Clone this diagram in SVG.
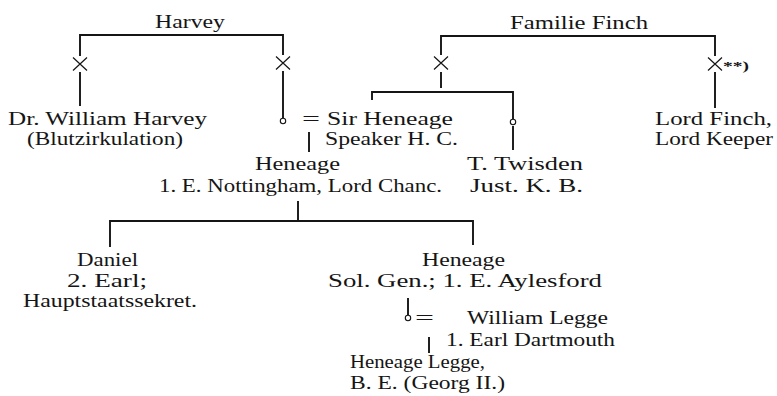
<svg xmlns="http://www.w3.org/2000/svg" width="777" height="396" viewBox="0 0 777 396">
<style>
text{font-family:"Liberation Serif","DejaVu Serif",serif;font-size:19px;fill:#151515}
.sup{font-size:13px;font-weight:bold}
.ln{fill:none;stroke:#151515;stroke-width:1.9}
.x{fill:none;stroke:#151515;stroke-width:1.2}
.f{fill:#fff;stroke:#151515;stroke-width:1.1}
</style>
<defs>
<g id="xm"><path class="x" d="M-7,-6.5L7,6.5M-7,6.5L7,-6.5"/></g>
</defs>
<rect width="777" height="396" fill="#fff"/>
<g id="connectors">
<path class="ln" d="M80,56V35H283V55"/>
<path class="ln" d="M80,72V106"/>
<path class="ln" d="M283,71V118"/>
<path class="ln" d="M441,55V36H715V56"/>
<path class="ln" d="M441,72V88"/>
<path class="ln" d="M372,100V92H513V119"/>
<path class="ln" d="M513,126V150"/>
<path class="ln" d="M715,72V108"/>
<path class="ln" d="M309,132V152"/>
<path class="ln" d="M298,201V221"/>
<path class="ln" d="M110,247V221H473V245"/>
<path class="ln" d="M408,298V315"/>
<path class="ln" d="M429,337V353"/>
</g>
<g id="harvey"><text x="155" y="28" textLength="70" lengthAdjust="spacingAndGlyphs">Harvey</text></g>
<g id="finch"><text x="510" y="29" textLength="138" lengthAdjust="spacingAndGlyphs">Familie Finch</text></g>
<g id="harvey-son"><use href="#xm" x="80" y="64"/></g>
<g id="harvey-daughter"><use href="#xm" x="283" y="63"/><circle class="f" cx="283" cy="121" r="2.7"/></g>
<g id="finch-son"><use href="#xm" x="441" y="63"/></g>
<g id="finch-son2"><use href="#xm" x="715" y="64"/><text class="sup" x="723" y="70" textLength="26" lengthAdjust="spacingAndGlyphs">**)</text></g>
<g id="william-harvey">
<text x="8" y="125" textLength="199" lengthAdjust="spacingAndGlyphs">Dr. William Harvey</text>
<text x="27" y="145" textLength="156" lengthAdjust="spacingAndGlyphs">(Blutzirkulation)</text>
</g>
<g id="sir-heneage">
<text x="302" y="125" textLength="18" lengthAdjust="spacingAndGlyphs">=</text>
<text x="327" y="125" textLength="126" lengthAdjust="spacingAndGlyphs">Sir Heneage</text>
<text x="325" y="145" textLength="133" lengthAdjust="spacingAndGlyphs">Speaker H. C.</text>
</g>
<g id="twisden"><circle class="f" cx="513" cy="122" r="2.7"/>
<text x="467" y="170" textLength="116" lengthAdjust="spacingAndGlyphs">T. Twisden</text>
<text x="470" y="192" textLength="113" lengthAdjust="spacingAndGlyphs">Just. K. B.</text>
</g>
<g id="lord-finch">
<text x="655" y="125" textLength="117" lengthAdjust="spacingAndGlyphs">Lord Finch,</text>
<text x="655" y="145" textLength="118" lengthAdjust="spacingAndGlyphs">Lord Keeper</text>
</g>
<g id="heneage-nottingham">
<text x="255" y="170" textLength="85" lengthAdjust="spacingAndGlyphs">Heneage</text>
<text x="159" y="192" textLength="283" lengthAdjust="spacingAndGlyphs">1. E. Nottingham, Lord Chanc.</text>
</g>
<g id="daniel">
<text x="77" y="266" textLength="61" lengthAdjust="spacingAndGlyphs">Daniel</text>
<text x="67" y="287" textLength="80" lengthAdjust="spacingAndGlyphs">2. Earl;</text>
<text x="23" y="307" textLength="174" lengthAdjust="spacingAndGlyphs">Hauptstaatssekret.</text>
</g>
<g id="heneage-aylesford">
<text x="422" y="266" textLength="83" lengthAdjust="spacingAndGlyphs">Heneage</text>
<text x="328" y="287" textLength="274" lengthAdjust="spacingAndGlyphs">Sol. Gen.; 1. E. Aylesford</text>
<circle class="f" cx="408" cy="318" r="2.7"/>
</g>
<g id="william-legge">
<text x="415" y="324" textLength="19" lengthAdjust="spacingAndGlyphs">=</text>
<text x="467" y="324" textLength="141" lengthAdjust="spacingAndGlyphs">William Legge</text>
<text x="446" y="346" textLength="169" lengthAdjust="spacingAndGlyphs">1. Earl Dartmouth</text>
</g>
<g id="heneage-legge">
<text x="350" y="368" textLength="135" lengthAdjust="spacingAndGlyphs">Heneage Legge,</text>
<text x="350" y="389" textLength="155" lengthAdjust="spacingAndGlyphs">B. E. (Georg II.)</text>
</g>
</svg>
